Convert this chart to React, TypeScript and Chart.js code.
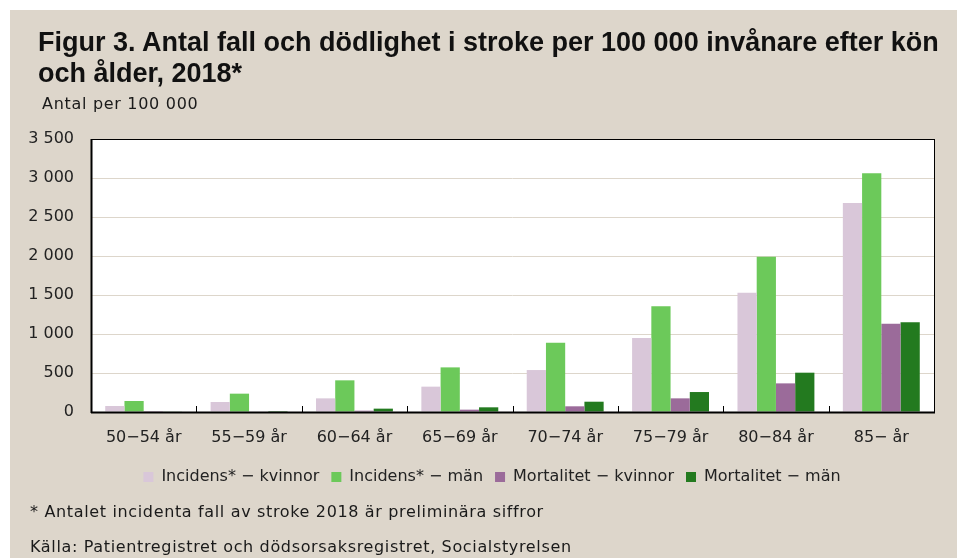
import React, { useEffect, useRef } from "react";
import { Chart, registerables } from "chart.js";

Chart.register(...registerables);

const categories = ["50−54 år", "55−59 år", "60−64 år", "65−69 år", "70−74 år", "75−79 år", "80−84 år", "85− år"];
const incidensKvinnor = [77, 128, 175, 325, 538, 949, 1530, 2679];
const incidensMan = [141, 235, 406, 572, 889, 1355, 1991, 3060];
const mortalitetKvinnor = [2, 6, 17, 30, 73, 175, 367, 1132];
const mortalitetMan = [5, 12, 43, 60, 132, 256, 504, 1150];
const seriesNames = ["Incidens* − kvinnor", "Incidens* − män", "Mortalitet − kvinnor", "Mortalitet − män"];
const yTicks = [0, 500, 1000, 1500, 2000, 2500, 3000, 3500];

const BG = "#DDD6CB";
const FONT = "'DejaVu Sans', sans-serif";

const borderPlugin = {
  id: "plotBorder",
  afterLayout(chart: any) {
    const lg = chart.legend;
    if (lg) {
      lg.left += 20;
      lg.right += 20;
    }
  },
  afterDatasetsDraw(chart: any) {
    const { ctx, chartArea } = chart;
    const { left, top, right, bottom } = chartArea;
    ctx.save();
    ctx.strokeStyle = "#000";
    ctx.lineWidth = 1;
    ctx.strokeRect(Math.round(left) + 0.5, Math.round(top) + 0.5, Math.round(right - left), Math.round(bottom - top));
    ctx.lineWidth = 2;
    ctx.beginPath();
    ctx.moveTo(Math.round(left) + 0.5, Math.round(top));
    ctx.lineTo(Math.round(left) + 0.5, Math.round(bottom) + 1);
    ctx.moveTo(Math.round(left), Math.round(bottom) + 0.5);
    ctx.lineTo(Math.round(right) + 1, Math.round(bottom) + 0.5);
    ctx.stroke();
    // inward category boundary ticks
    const xs = chart.scales.x;
    const n = categories.length;
    ctx.lineWidth = 1;
    ctx.beginPath();
    for (let i = 1; i < n; i++) {
      const px = Math.round((xs.getPixelForValue(i - 1) + xs.getPixelForValue(i)) / 2) + 0.5;
      ctx.moveTo(px, Math.round(bottom));
      ctx.lineTo(px, Math.round(bottom) - 6);
    }
    ctx.stroke();
    ctx.restore();
  },
};

function fmt(v: number) {
  return String(v).replace(/\B(?=(\d{3})+(?!\d))/g, " ");
}

export default function App() {
  const ref = useRef<HTMLCanvasElement>(null);
  useEffect(() => {
    if (!ref.current) return;
    const colors = ["#D9C7D9", "#6CC95A", "#9B6B9A", "#237A1F"];
    const values = [incidensKvinnor, incidensMan, mortalitetKvinnor, mortalitetMan];
    const chart = new Chart(ref.current, {
      type: "bar",
      data: {
        labels: categories,
        datasets: values.map((d, i) => ({
          label: seriesNames[i],
          data: d,
          backgroundColor: colors[i],
          borderWidth: 0,
          categoryPercentage: 0.73,
          barPercentage: 1.0,
        })),
      },
      options: {
        responsive: false,
        animation: false,
        layout: { padding: { top: 129, right: 23, left: 0, bottom: 63 } },
        plugins: {
          legend: {
            position: "bottom",
            labels: {
              boxWidth: 10,
              boxHeight: 10,
              padding: 12,
              color: "#222",
              font: { family: FONT, size: 16 },
            },
          },
          tooltip: { enabled: false },
        },
        scales: {
          x: {
            grid: { display: false, drawTicks: false },
            border: { display: false },
            ticks: { padding: 16, color: "#222", font: { family: FONT, size: 16 } },
            afterFit: (s: any) => { s.height = 45; },
          },
          y: {
            min: 0,
            max: 3500,
            afterBuildTicks: (s: any) => { s.ticks = yTicks.map((v) => ({ value: v })); },
            grid: { color: BG, lineWidth: 1, drawTicks: false },
            border: { display: false },
            ticks: {
              padding: 17,
              color: "#222",
              font: { family: FONT, size: 16 },
              callback: (v: any) => fmt(Number(v)),
            },
            afterFit: (s: any) => { s.width = 81; },
          },
        },
      },
      plugins: [
        {
          id: "whiteArea",
          beforeDraw(c: any) {
            const { ctx, chartArea } = c;
            ctx.save();
            ctx.fillStyle = "#fff";
            ctx.fillRect(chartArea.left, chartArea.top, chartArea.right - chartArea.left, chartArea.bottom - chartArea.top);
            ctx.restore();
          },
        },
        borderPlugin,
      ],
    } as any);
    return () => chart.destroy();
  }, []);

  const txt: React.CSSProperties = { position: "absolute", whiteSpace: "nowrap", color: "#1a1a1a", fontFamily: FONT };
  return (
    <div style={{ position: "absolute", left: 10, top: 10, width: 947, height: 548, background: BG, overflow: "hidden" }}>
      <canvas ref={ref} width={947} height={548} style={{ position: "absolute", left: 0, top: 0 }} />
      <div style={{ ...txt, left: 28, top: 17, fontFamily: "'Liberation Sans', sans-serif", fontWeight: "bold", fontSize: 27, lineHeight: "31px", color: "#111" }}>
        Figur 3. Antal fall och dödlighet i stroke per 100 000 invånare efter kön
        <br />
        och ålder, 2018*
      </div>
      <div style={{ ...txt, left: 32, top: 84, fontSize: 16, letterSpacing: "0.7px" }}>Antal per 100 000</div>
      <div style={{ ...txt, left: 20, top: 492, fontSize: 16, letterSpacing: "0.65px" }}>* Antalet incidenta fall av stroke 2018 är preliminära siffror</div>
      <div style={{ ...txt, left: 20, top: 527, fontSize: 16, letterSpacing: "0.65px" }}>Källa: Patientregistret och dödsorsaksregistret, Socialstyrelsen</div>
    </div>
  );
}
